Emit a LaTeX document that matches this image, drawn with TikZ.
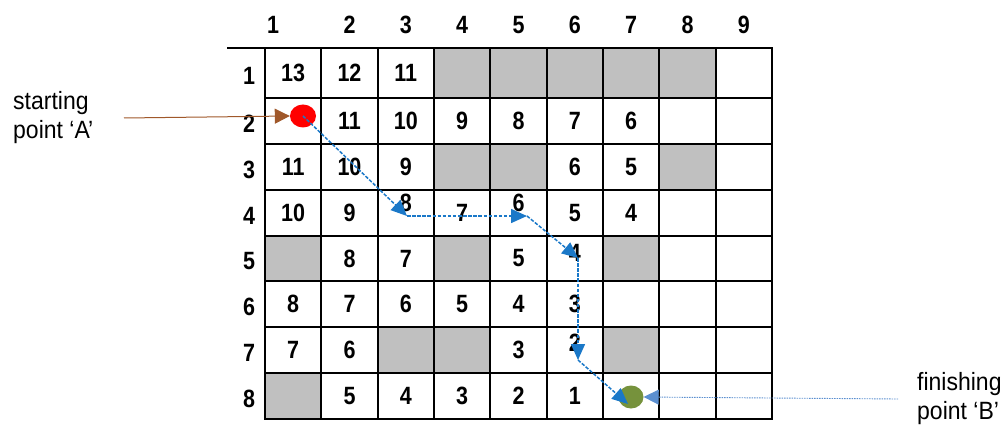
\documentclass[tikz,border=0pt]{standalone}
\usepackage{fontspec}
\setmainfont{Liberation Sans}
\newfontfamily\digitfont{Liberation Sans}[FakeStretch=0.86]
\newfontfamily\labelfont{Liberation Sans}[FakeStretch=0.92]
\usetikzlibrary{arrows.meta,shapes.geometric}
\definecolor{graycell}{HTML}{C0C0C0}
\definecolor{pathblue}{HTML}{1A78C8}
\definecolor{brownarr}{HTML}{A0582A}
\definecolor{finblue}{HTML}{5B8FD0}
\definecolor{dotgreen}{HTML}{76923C}
\tikzset{
  gridline/.style={line width=2pt, line cap=rect},
  graybox/.style={fill=graycell},
  num/.style={font=\digitfont\bfseries\fontsize{25}{25}\selectfont, inner sep=0pt},
  sidelabel/.style={font=\labelfont\fontsize{25}{29}\selectfont, align=left, inner sep=0pt, anchor=west},
  pathseg/.style={draw=pathblue, line width=1.5pt, dash pattern=on 3.5pt off 1.6pt, -{Triangle[length=16pt,width=14pt]}},
  brownline/.style={draw=brownarr, line width=1pt, -{Triangle[length=15pt,width=15pt]}},
  finline/.style={draw=finblue, line width=0.9pt, dash pattern=on 1.5pt off 1pt, -{Triangle[length=15pt,width=15pt]}},
  dot/.style={ellipse, inner sep=0pt}
}
\begin{document}
\begin{tikzpicture}[x=1pt,y=-1pt]
\useasboundingbox (0,0) rectangle (1007,425);
% gray cells (col/row)
\foreach \c/\r in {4/1,5/1,6/1,7/1,8/1,4/3,5/3,8/3,1/5,4/5,7/5,3/7,4/7,7/7,1/8}{
  \pgfmathsetmacro\xl{265+(\c-1)*56.333}
  \pgfmathsetmacro\xr{\xl+56.333}
  \pgfmathsetmacro\yt{\r==1 ? 48 : 98+(\r-2)*45.857}
  \pgfmathsetmacro\yb{\r==1 ? 98 : \yt+45.857}
  \fill[graybox] (\xl,\yt) rectangle (\xr,\yb);
}
% grid lines
\draw[gridline] (228,48) -- (772,48);
\foreach \k in {0,...,7}{
  \pgfmathsetmacro\yy{98+\k*45.857}
  \draw[gridline] (265,\yy) -- (772,\yy);
}
\foreach \i in {0,...,9}{
  \pgfmathsetmacro\xx{265+\i*56.333}
  \draw[gridline] (\xx,48) -- (\xx,419);
}
% column headers
\foreach \c in {1,...,9}{
  \pgfmathsetmacro\xx{\c==1 ? 273 : 265+(\c-0.5)*56.333}
  \node[num] (h\c) at (\xx,25) {\c};
}
% row headers
\foreach \r in {1,...,8}{
  \pgfmathsetmacro\yy{\r==1 ? 76 : 98+(\r-1.5)*45.857+3}
  \node[num] (r\r) at (249,\yy) {\r};
}
% cell numbers: col/row/text/vertical shift
\foreach \c/\r/\t/\d in {
  1/1/13/0, 2/1/12/0, 3/1/11/0,
  2/2/11/0, 3/2/10/0, 4/2/9/0, 5/2/8/0, 6/2/7/0, 7/2/6/0,
  1/3/11/0, 2/3/10/0, 3/3/9/0, 6/3/6/0, 7/3/5/0,
  1/4/10/0, 2/4/9/0, 3/4/8/-10, 4/4/7/0, 5/4/6/-10, 6/4/5/0, 7/4/4/0,
  2/5/8/0, 3/5/7/0, 5/5/5/0, 6/5/4/-6,
  1/6/8/0, 2/6/7/0, 3/6/6/0, 4/6/5/0, 5/6/4/0, 6/6/3/0,
  1/7/7/0, 2/7/6/0, 5/7/3/0, 6/7/2/-7,
  2/8/5/0, 3/8/4/0, 4/8/3/0, 5/8/2/0, 6/8/1/0}{
  \pgfmathsetmacro\xx{265+(\c-0.5)*56.333}
  \pgfmathsetmacro\yy{(\r==1 ? 73 : 98+(\r-1.5)*45.857)+\d}
  \node[num] (n\c-\r) at (\xx,\yy) {\t};
}
% start and finish points
\node[dot, fill=red, minimum width=26pt, minimum height=23pt] (A) at (303,116) {};
\node[dot, fill=dotgreen, minimum width=25pt, minimum height=23pt] (B) at (631,397) {};
% path waypoints
\coordinate (p1) at (407,216);
\coordinate (p2) at (527,216);
\coordinate (p3) at (578,258);
\coordinate (p4) at (578,360);
\coordinate (p5) at (628,404);
\draw[pathseg] (A.center) -- (p1);
\draw[pathseg] (p1) -- (p2);
\draw[pathseg] (p2) -- (p3);
\draw[pathseg] (p3) -- (p4);
\draw[pathseg] (p4) -- (p5);
% side labels and their arrows
\node[sidelabel] (la) at (13,118) {starting\\point ‘A’};
\node[sidelabel] (lb) at (917,399) {finishing\\point ‘B’};
\coordinate (sa) at (124,118);
\coordinate (fb) at (898,399);
\draw[brownline] (sa) -- (A.west);
\draw[finline] (fb) -- (B.east);
\end{tikzpicture}
\end{document}
